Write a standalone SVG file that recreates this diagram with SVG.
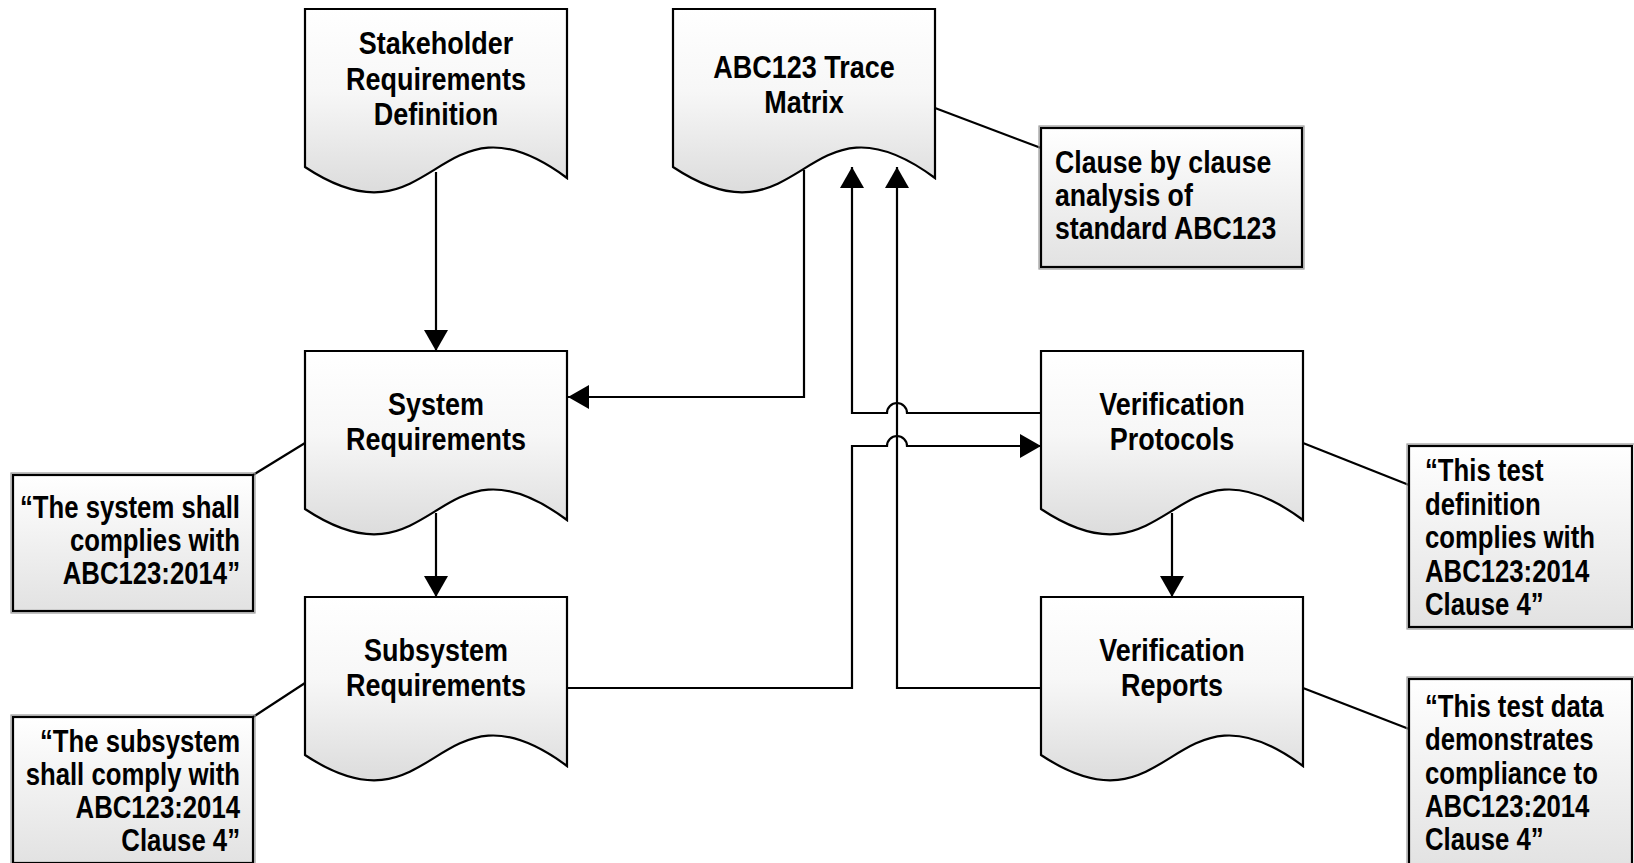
<svg xmlns="http://www.w3.org/2000/svg" width="1634" height="863" viewBox="0 0 1634 863">
  <defs>
    <linearGradient id="docFill" x1="0" y1="0" x2="0" y2="1">
      <stop offset="0" stop-color="#ffffff"/>
      <stop offset="0.45" stop-color="#f7f7f7"/>
      <stop offset="1" stop-color="#dcdcdc"/>
    </linearGradient>
    <linearGradient id="noteFill" x1="0" y1="0" x2="0" y2="1">
      <stop offset="0" stop-color="#ffffff"/>
      <stop offset="1" stop-color="#e2e2e2"/>
    </linearGradient>
    <!-- document (wavy-bottom) shape, 262 wide -->
    <path id="doc" d="M0,0 H262 V169 C131,72 131,245 0,158 Z"/>
    <marker id="arrow" markerUnits="userSpaceOnUse" markerWidth="22" markerHeight="24" refX="21" refY="12" orient="auto">
      <path d="M0,0 L21,12 L0,24 Z" fill="#000"/>
    </marker>
  </defs>
  <style>
    .doc { fill: url(#docFill); stroke: #000; stroke-width: 2.2; }
    .note { fill: url(#noteFill); stroke: #000; stroke-width: 2.2; }
    .noteEdge { fill: none; stroke: #9a9a9a; stroke-width: 1.2; }
    .lbl { font-family: "Liberation Sans", Arial, sans-serif; font-weight: bold; font-size: 31px; fill: #000; }
    .c { text-anchor: middle; }
    .r { text-anchor: end; }
    .l { text-anchor: start; }
    .wire { fill: none; stroke: #000; stroke-width: 2.2; }
    .lead { fill: none; stroke: #000; stroke-width: 2.2; }
  </style>

  <rect width="1634" height="863" fill="#ffffff"/>

  <!-- connectors -->
  <g id="connectors">
    <path class="wire" d="M436,172 V351" marker-end="url(#arrow)"/>
    <path class="wire" d="M436,513 V597" marker-end="url(#arrow)"/>
    <path class="wire" d="M804,170 V397 H568" marker-end="url(#arrow)"/>
    <path class="wire" d="M1041,413 H907 A10,10 0 0 0 887,413 H852 V167" marker-end="url(#arrow)"/>
    <path class="wire" d="M568,688 H852 V446 H887 A10,10 0 0 1 907,446 H1041" marker-end="url(#arrow)"/>
    <path class="wire" d="M1041,688 H897 V167" marker-end="url(#arrow)"/>
    <path class="wire" d="M1172,513 V597" marker-end="url(#arrow)"/>
    <!-- callout leaders -->
    <path class="lead" d="M935,108 L1041,148"/>
    <path class="lead" d="M253,475 L305,443"/>
    <path class="lead" d="M253,717 L305,683"/>
    <path class="lead" d="M1303,443 L1409,485"/>
    <path class="lead" d="M1303,688 L1409,729"/>
  </g>

  <!-- labels use a horizontally condensed bold face: translate to the anchor, then scale x -->
  <g id="stakeholder">
    <use href="#doc" class="doc" x="305" y="9"/>
    <text class="lbl c" transform="translate(436 0) scale(0.87 1)" y="54">Stakeholder</text>
    <text class="lbl c" transform="translate(436 0) scale(0.87 1)" y="90">Requirements</text>
    <text class="lbl c" transform="translate(436 0) scale(0.87 1)" y="125">Definition</text>
  </g>

  <g id="trace-matrix">
    <use href="#doc" class="doc" x="673" y="9"/>
    <text class="lbl c" transform="translate(804 0) scale(0.87 1)" y="78">ABC123 Trace</text>
    <text class="lbl c" transform="translate(804 0) scale(0.87 1)" y="113">Matrix</text>
  </g>

  <g id="system-req">
    <use href="#doc" class="doc" x="305" y="351"/>
    <text class="lbl c" transform="translate(436 0) scale(0.87 1)" y="415">System</text>
    <text class="lbl c" transform="translate(436 0) scale(0.87 1)" y="450">Requirements</text>
  </g>

  <g id="subsystem-req">
    <use href="#doc" class="doc" x="305" y="597"/>
    <text class="lbl c" transform="translate(436 0) scale(0.87 1)" y="661">Subsystem</text>
    <text class="lbl c" transform="translate(436 0) scale(0.87 1)" y="696">Requirements</text>
  </g>

  <g id="verif-protocols">
    <use href="#doc" class="doc" x="1041" y="351"/>
    <text class="lbl c" transform="translate(1172 0) scale(0.87 1)" y="415">Verification</text>
    <text class="lbl c" transform="translate(1172 0) scale(0.87 1)" y="450">Protocols</text>
  </g>

  <g id="verif-reports">
    <use href="#doc" class="doc" x="1041" y="597"/>
    <text class="lbl c" transform="translate(1172 0) scale(0.87 1)" y="661">Verification</text>
    <text class="lbl c" transform="translate(1172 0) scale(0.87 1)" y="696">Reports</text>
  </g>

  <g id="note-clause">
    <rect class="noteEdge" x="1039" y="126" width="265" height="143"/>
    <rect class="note" x="1041" y="128" width="261" height="139"/>
    <text class="lbl l" transform="translate(1055 0) scale(0.86 1)" y="173">Clause by clause</text>
    <text class="lbl l" transform="translate(1055 0) scale(0.86 1)" y="206">analysis of</text>
    <text class="lbl l" transform="translate(1055 0) scale(0.86 1)" y="239">standard ABC123</text>
  </g>

  <g id="note-system">
    <rect class="noteEdge" x="11" y="473" width="244" height="140"/>
    <rect class="note" x="13" y="475" width="240" height="136"/>
    <text class="lbl r" transform="translate(240 0) scale(0.83 1)" y="518">“The system shall</text>
    <text class="lbl r" transform="translate(240 0) scale(0.83 1)" y="551">complies with</text>
    <text class="lbl r" transform="translate(240 0) scale(0.83 1)" y="584">ABC123:2014”</text>
  </g>

  <g id="note-subsystem">
    <rect class="noteEdge" x="11" y="715" width="244" height="150"/>
    <rect class="note" x="13" y="717" width="240" height="146"/>
    <text class="lbl r" transform="translate(240 0) scale(0.83 1)" y="752">“The subsystem</text>
    <text class="lbl r" transform="translate(240 0) scale(0.83 1)" y="785">shall comply with</text>
    <text class="lbl r" transform="translate(240 0) scale(0.83 1)" y="818">ABC123:2014</text>
    <text class="lbl r" transform="translate(240 0) scale(0.83 1)" y="851">Clause 4”</text>
  </g>

  <g id="note-test-def">
    <rect class="noteEdge" x="1407" y="444" width="228" height="185"/>
    <rect class="note" x="1409" y="446" width="223" height="181"/>
    <text class="lbl l" transform="translate(1425 0) scale(0.83 1)" y="481">“This test</text>
    <text class="lbl l" transform="translate(1425 0) scale(0.83 1)" y="515">definition</text>
    <text class="lbl l" transform="translate(1425 0) scale(0.83 1)" y="548">complies with</text>
    <text class="lbl l" transform="translate(1425 0) scale(0.83 1)" y="582">ABC123:2014</text>
    <text class="lbl l" transform="translate(1425 0) scale(0.83 1)" y="615">Clause 4”</text>
  </g>

  <g id="note-test-data">
    <rect class="noteEdge" x="1407" y="677" width="228" height="190"/>
    <rect class="note" x="1409" y="679" width="223" height="190"/>
    <text class="lbl l" transform="translate(1425 0) scale(0.83 1)" y="717">“This test data</text>
    <text class="lbl l" transform="translate(1425 0) scale(0.83 1)" y="750">demonstrates</text>
    <text class="lbl l" transform="translate(1425 0) scale(0.83 1)" y="784">compliance to</text>
    <text class="lbl l" transform="translate(1425 0) scale(0.83 1)" y="817">ABC123:2014</text>
    <text class="lbl l" transform="translate(1425 0) scale(0.83 1)" y="850">Clause 4”</text>
  </g>
</svg>
